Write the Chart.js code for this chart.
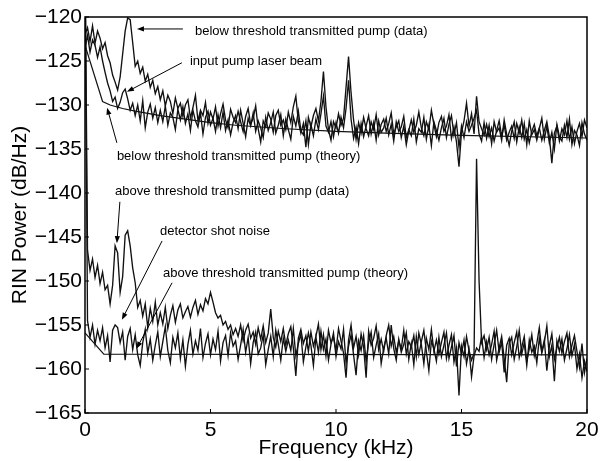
<!DOCTYPE html>
<html>
<head>
<meta charset="utf-8">
<title>RIN Power spectrum</title>
<script src="https://cdn.jsdelivr.net/npm/chart.js@4.4.1/dist/chart.umd.min.js"></script>
<style>
    html, body { margin: 0; padding: 0; background: #fff; }
    #rinChart { display: block; }
</style>
</head>
<body>
<canvas id="rinChart" width="605" height="461"></canvas>
<script>
/****************/
/* Chart data   */
/****************/

// all noisy traces are sampled every 0.1 kHz from 0 to 20 kHz
const freqStep = 0.1;

const xTicks = [0, 5, 10, 15, 20];
const yTicks = [-165, -160, -155, -150, -145, -140, -135, -130, -125, -120];

// below threshold transmitted pump (data)
const belowPumpData = [
    -122.0, -121.2, -122.8, -121.0, -123.0, -121.6, -122.4, -123.6, -122.9, -124.4,
    -125.2, -126.6, -127.4, -128.3, -126.8, -124.2, -121.6, -120.1, -120.3, -122.9,
    -125.6, -125.0, -126.4, -125.7, -127.3, -126.5, -128.0, -127.2, -128.7, -127.9,
    -129.4, -128.4, -130.1, -128.9, -129.6, -131.0, -129.2, -130.4, -129.8, -131.3,
    -130.0, -129.4, -131.5, -130.3, -128.9, -131.8, -130.6, -131.2, -129.7, -132.1,
    -130.8, -131.6, -130.2, -132.4, -131.0, -129.9, -131.7, -132.6, -130.5, -131.4,
    -132.0, -130.7, -131.9, -133.0, -131.3, -130.4, -132.2, -131.5, -130.1, -132.7,
    -134.2, -131.8, -132.5, -130.9, -131.6, -133.1, -131.2, -130.6, -132.3, -131.7,
    -132.8, -130.8, -132.0, -130.2, -129.0, -131.9, -133.2, -132.1, -134.8, -131.4,
    -132.5, -131.2, -130.4, -131.8, -129.6, -126.2, -130.2, -132.8, -134.0, -131.9,
    -132.6, -131.0, -132.3, -131.5, -128.0, -124.5, -128.6, -131.7, -133.9, -132.0,
    -133.2, -131.4, -132.7, -133.5, -131.9, -132.8, -131.1, -133.4, -132.2, -131.6,
    -133.0, -132.1, -130.9, -133.3, -132.5, -131.8, -133.7, -132.4, -134.5, -132.9,
    -131.7, -133.1, -132.3, -130.8, -132.6, -133.5, -131.9, -132.8, -130.6, -132.2,
    -133.6, -132.0, -131.3, -133.0, -132.4, -131.1, -133.8, -132.5, -134.2, -137.0,
    -133.1, -131.8, -129.8, -132.4, -131.0, -133.3, -129.0, -131.9, -132.7, -133.4,
    -132.2, -133.6, -132.6, -134.1, -132.9, -131.8, -133.5, -132.3, -134.0, -133.1,
    -132.4, -133.8, -132.1, -133.2, -131.7, -133.9, -132.8, -134.3, -133.0, -132.2,
    -133.5, -132.6, -134.0, -132.9, -131.9, -133.6, -136.6, -133.2, -132.4, -134.1,
    -132.7, -133.4, -131.8, -133.9, -132.5, -134.4, -133.0, -132.1, -133.6, -131.7,
    -132.6
];

// input pump laser beam
const inputPumpData = [
    -123.5, -122.1, -124.0, -122.6, -123.2, -124.6, -123.4, -125.0, -126.3, -127.5,
    -128.4, -129.6, -129.1, -130.4, -129.7, -128.6, -128.2, -129.3, -130.6, -129.8,
    -131.2, -130.0, -131.8, -129.5, -132.6, -130.8, -129.9, -131.5, -130.3, -132.0,
    -130.6, -131.9, -130.1, -132.3, -130.9, -131.4, -132.8, -130.5, -131.7, -130.2,
    -132.1, -131.0, -132.9, -130.6, -131.8, -132.5, -130.9, -133.3, -131.4, -130.7,
    -132.3, -131.5, -133.0, -131.1, -132.6, -130.8, -132.9, -131.7, -133.4, -132.0,
    -131.2, -132.7, -130.6, -132.1, -133.6, -131.5, -132.4, -130.9, -133.0, -131.8,
    -132.6, -133.7, -131.4, -132.9, -132.0, -130.8, -133.2, -132.3, -131.1, -133.5,
    -131.6, -132.8, -133.9, -131.3, -132.4, -130.7, -132.9, -133.4, -131.8, -134.5,
    -132.2, -133.5, -131.6, -132.8, -131.0, -129.0, -132.4, -133.1, -131.9, -133.6,
    -132.0, -133.2, -131.4, -132.6, -130.4, -127.2, -131.6, -133.8, -132.5, -134.4,
    -132.1, -133.6, -132.4, -131.2, -133.3, -132.0, -134.0, -131.8, -133.1, -132.6,
    -131.5, -133.4, -132.2, -134.1, -131.9, -133.0, -132.5, -131.3, -133.7, -132.8,
    -133.5, -131.6, -134.2, -132.7, -133.1, -131.4, -133.9, -132.3, -134.6, -131.9,
    -132.9, -134.0, -132.6, -131.5, -133.7, -132.2, -131.2, -133.4, -132.0, -134.8,
    -132.4, -133.7, -131.9, -133.0, -132.3, -131.5, -130.6, -133.3, -134.1, -132.0,
    -133.8, -132.3, -134.4, -131.9, -133.1, -132.6, -134.0, -131.7, -133.3, -134.6,
    -133.0, -131.9, -134.2, -132.5, -133.7, -132.1, -134.5, -131.8, -133.4, -132.8,
    -134.0, -132.7, -131.5, -133.9, -132.4, -134.3, -133.1, -135.0, -132.2, -133.6,
    -134.1, -132.3, -133.7, -131.6, -134.5, -132.9, -133.4, -134.6, -132.0, -133.3,
    -134.0
];

// above threshold transmitted pump (data)
const abovePumpData = [
    -112.0, -146.5, -148.8, -147.5, -149.6, -148.2, -150.3, -149.0, -151.0, -150.5,
    -152.6, -150.5, -146.0, -146.8, -151.3, -149.5, -144.8, -144.3, -146.0, -148.5,
    -150.2, -153.0, -152.2, -154.0, -152.6, -155.3, -153.1, -154.6, -152.4, -155.0,
    -153.6, -154.9, -153.0, -155.4, -153.9, -152.8, -154.7, -153.3, -152.6, -154.2,
    -153.5, -152.9, -154.1, -153.0, -152.2, -153.8, -152.7, -153.4, -152.0, -152.6,
    -151.3, -152.4, -153.6, -154.2, -153.9, -155.0, -154.6, -155.5, -155.0, -156.1,
    -155.4, -156.3, -155.0, -156.8, -155.6, -154.9, -156.5, -155.8, -157.2, -155.3,
    -156.6, -155.1, -157.0, -155.9, -153.2, -156.4, -157.5, -155.7, -156.9, -155.4,
    -157.3, -156.0, -155.2, -157.6, -160.8, -156.5, -155.5, -157.1, -156.2, -158.0,
    -155.8, -157.4, -156.3, -154.9, -157.8, -156.1, -158.5, -155.6, -157.0, -156.4,
    -157.9, -155.4, -156.8, -158.2, -161.0, -156.7, -155.0, -157.6, -156.3, -158.4,
    -156.0, -157.5, -161.0, -155.7, -157.3, -156.5, -155.1, -157.8, -156.6, -158.0,
    -156.2, -155.0, -157.4, -156.3, -158.1, -156.8, -157.7, -155.6, -158.3, -156.9,
    -157.5, -156.2, -158.6, -155.9, -157.2, -159.4, -156.5, -157.8, -155.5, -158.0,
    -156.7, -158.3, -157.0, -155.8, -158.8, -157.3, -156.1, -159.2, -157.6, -163.0,
    -157.4, -158.6, -156.3, -157.9, -159.0, -158.2, -136.1, -150.0, -157.0, -156.2,
    -157.8, -156.4, -158.9, -157.2, -155.6, -158.1, -156.9, -160.4, -157.3, -156.5,
    -158.4, -157.0, -155.8, -158.7, -157.5, -156.3, -159.1, -157.7, -156.1, -158.5,
    -157.1, -155.3, -158.0, -156.7, -160.2, -157.4, -156.0, -158.9, -157.6, -156.4,
    -158.2, -156.9, -155.9, -158.6, -157.3, -156.2, -158.0, -159.8, -157.1, -160.4,
    -158.8
];

// detector shot noise
const shotNoiseData = [
    -112.0, -154.5, -156.4, -155.0, -157.2, -155.6, -156.8, -155.3, -157.6, -156.2,
    -159.2, -155.6, -155.0, -155.3, -157.0, -155.8, -159.0, -156.3, -155.4, -157.8,
    -156.1, -158.4, -159.6, -157.0, -155.5, -158.2, -156.6, -159.0, -157.3, -155.8,
    -158.6, -156.9, -155.2, -157.9, -159.3, -156.4, -157.6, -155.9, -158.8, -156.7,
    -159.7, -157.2, -155.6, -158.3, -156.8, -157.9, -155.4, -158.7, -157.1, -156.0,
    -158.4, -156.6, -157.8, -155.7, -159.1, -157.0, -156.2, -158.5, -155.9, -157.4,
    -156.8, -158.9, -157.3, -155.5, -158.1, -156.4, -159.4, -157.0, -155.8, -158.3,
    -157.6, -156.1, -159.5, -157.8, -156.3, -158.6, -155.6, -157.2, -159.0, -156.5,
    -158.0, -156.7, -157.9, -155.4, -158.5, -157.1, -156.0, -159.2, -157.5, -155.9,
    -157.3, -159.6, -156.4, -158.1, -155.7, -157.8, -156.6, -159.0, -157.2, -155.9,
    -158.6, -156.9, -157.7, -155.5, -159.3, -157.4, -156.1, -158.4, -160.7, -156.8,
    -157.9, -156.2, -159.1, -157.0, -155.8, -158.7, -157.3, -156.0, -159.4, -157.6,
    -156.5, -158.3, -155.0, -157.7, -159.0, -156.6, -158.1, -157.2, -155.9, -158.9,
    -157.1, -159.5, -156.3, -158.4, -156.9, -155.6, -158.0, -160.2, -156.8, -157.7,
    -159.1, -156.4, -158.6, -157.3, -155.9, -158.8, -157.5, -156.2, -159.7, -157.0,
    -158.3, -156.7, -159.4, -157.8, -160.9, -158.5, -157.6, -158.0, -156.3, -158.7,
    -156.9, -158.4, -157.2, -155.7, -159.0, -157.6, -156.3, -158.8, -161.5, -157.1,
    -156.4, -158.9, -157.5, -155.6, -158.3, -157.0, -159.6, -156.7, -158.1, -157.4,
    -159.3, -156.5, -158.2, -157.0, -155.1, -158.6, -157.3, -161.4, -156.8, -158.0,
    -156.6, -159.0, -157.7, -156.1, -158.5, -157.2, -160.0, -158.3, -161.0, -159.1,
    -160.3
];

// theory curves (frequency in kHz, RIN in dB/Hz)
const belowTheoryFreq = [0, 0.7, 1, 1.5, 2, 3, 4, 5, 6, 8, 10, 12, 15, 20];
const belowTheoryRin = [-123.2, -129.6, -130.0, -130.4, -130.7, -131.2, -131.6, -132.0, -132.3, -132.7, -133.0, -133.2, -133.45, -133.75];
const aboveTheoryFreq = [0, 0.75, 20];
const aboveTheoryRin = [-155.9, -158.3, -158.4];

// annotation texts, text anchor and arrow (tail -> head), in kHz / dB
const noteTexts = [
    'below threshold transmitted pump (data)',
    'input pump laser beam',
    'below threshold transmitted pump (theory)',
    'above threshold transmitted pump (data)',
    'detector shot noise',
    'above threshold transmitted pump (theory)'
];
const noteAt = [[4.38, -121.6], [4.18, -125.1], [1.27, -135.8], [1.20, -139.8], [2.99, -144.4], [3.11, -149.1]];
const arrowFrom = [[3.90, -121.36], [3.86, -125.2], [1.27, -134.3], [1.39, -141.0], [3.07, -145.45], [3.47, -150.2]];
const arrowTo = [[2.07, -121.36], [1.67, -128.5], [0.88, -130.3], [1.27, -145.7], [1.47, -154.4], [2.05, -157.7]];

/****************/
/* Helpers      */
/****************/

const fontFamily = "'Liberation Sans', Arial, Helvetica, sans-serif";

function toPoints(values) {
    return values.map((v, i) => ({ x: Math.round(i * freqStep * 10) / 10, y: v }));
}

function pairPoints(xs, ys) {
    return xs.map((f, i) => ({ x: f, y: ys[i] }));
}

function lineSet(points, width) {
    return {
        data: points,
        borderColor: '#111',
        borderWidth: width,
        pointRadius: 0,
        tension: 0,
        fill: false
    };
}

function drawArrow(ctx, x0, y0, x1, y1) {
    const ang = Math.atan2(y1 - y0, x1 - x0);
    const len = 7, half = 2.6;
    ctx.beginPath();
    ctx.moveTo(x0, y0);
    ctx.lineTo(x1 - Math.cos(ang) * len * 0.6, y1 - Math.sin(ang) * len * 0.6);
    ctx.stroke();
    ctx.beginPath();
    ctx.moveTo(x1, y1);
    ctx.lineTo(x1 - Math.cos(ang) * len - Math.sin(ang) * half, y1 - Math.sin(ang) * len + Math.cos(ang) * half);
    ctx.lineTo(x1 - Math.cos(ang) * len + Math.sin(ang) * half, y1 - Math.sin(ang) * len - Math.cos(ang) * half);
    ctx.closePath();
    ctx.fill();
}

// frame, inward tick marks, labels and arrows
const framePlugin = {
    id: 'frameAndNotes',
    afterDraw(chart) {
        const { ctx, chartArea: area, scales: { x, y } } = chart;
        ctx.save();
        ctx.strokeStyle = '#000';
        ctx.fillStyle = '#000';
        ctx.lineWidth = 1.5;
        ctx.strokeRect(area.left, area.top, area.right - area.left, area.bottom - area.top);

        ctx.lineWidth = 1;
        ctx.beginPath();
        xTicks.forEach(t => {
            const px = x.getPixelForValue(t);
            ctx.moveTo(px, area.bottom);
            ctx.lineTo(px, area.bottom - 4);
        });
        yTicks.forEach(t => {
            const py = y.getPixelForValue(t);
            ctx.moveTo(area.left, py);
            ctx.lineTo(area.left + 4, py);
        });
        ctx.stroke();

        ctx.font = '13px ' + fontFamily;
        ctx.textBaseline = 'middle';
        ctx.textAlign = 'left';
        noteTexts.forEach((text, i) => {
            ctx.fillText(text, x.getPixelForValue(noteAt[i][0]), y.getPixelForValue(noteAt[i][1]));
            drawArrow(ctx,
                x.getPixelForValue(arrowFrom[i][0]), y.getPixelForValue(arrowFrom[i][1]),
                x.getPixelForValue(arrowTo[i][0]), y.getPixelForValue(arrowTo[i][1]));
        });
        ctx.restore();
    }
};

/****************/
/* Chart        */
/****************/

const ctx = document.getElementById('rinChart').getContext('2d');
new Chart(ctx, {
    type: 'line',
    data: {
        datasets: [
            lineSet(toPoints(belowPumpData), 1.35),
            lineSet(toPoints(inputPumpData), 1.35),
            lineSet(toPoints(abovePumpData), 1.35),
            lineSet(toPoints(shotNoiseData), 1.35),
            lineSet(pairPoints(belowTheoryFreq, belowTheoryRin), 1.2),
            lineSet(pairPoints(aboveTheoryFreq, aboveTheoryRin), 1.2)
        ]
    },
    options: {
        responsive: false,
        animation: false,
        devicePixelRatio: 1,
        layout: { padding: { top: 17, right: 18, left: 0, bottom: 0 } },
        plugins: {
            legend: { display: false },
            tooltip: { enabled: false }
        },
        scales: {
            x: {
                type: 'linear',
                min: 0,
                max: 20,
                grid: { display: false, drawTicks: false },
                border: { display: false },
                ticks: {
                    stepSize: 5,
                    padding: 5,
                    color: '#000',
                    font: { size: 21, family: fontFamily }
                },
                title: {
                    display: true,
                    text: 'Frequency (kHz)',
                    color: '#000',
                    font: { size: 21, family: fontFamily },
                    padding: { top: 0, bottom: 0 }
                },
                afterFit(scale) { scale.height = 48; }
            },
            y: {
                type: 'linear',
                min: -165,
                max: -120,
                grid: { display: false, drawTicks: false },
                border: { display: false },
                ticks: {
                    stepSize: 5,
                    padding: 3,
                    color: '#000',
                    font: { size: 21, family: fontFamily },
                    callback: v => String(v).replace('-', '\u2212')
                },
                title: {
                    display: true,
                    text: 'RIN Power (dB/Hz)',
                    color: '#000',
                    font: { size: 21, family: fontFamily },
                    padding: { top: 8, bottom: 0 }
                },
                afterFit(scale) { scale.width = 85; }
            }
        }
    },
    plugins: [framePlugin]
});
</script>
</body>
</html>
